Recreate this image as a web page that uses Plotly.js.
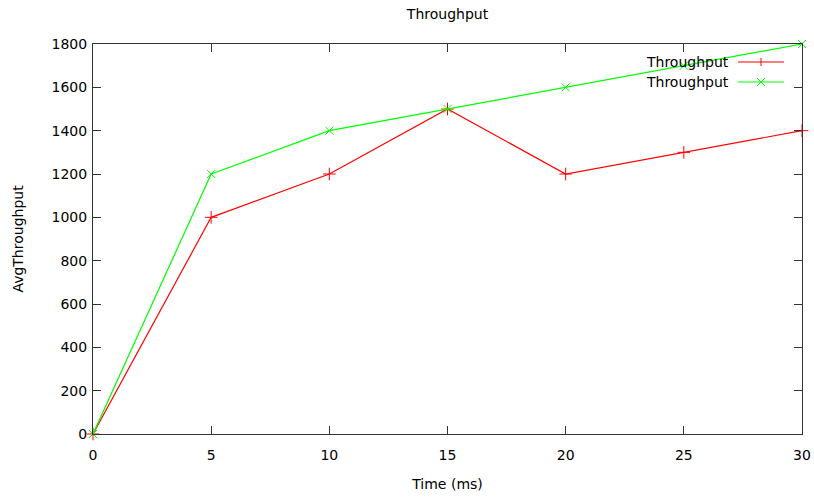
<!DOCTYPE html>
<html>
<head>
<meta charset="utf-8">
<script src="https://cdn.plot.ly/plotly-3.0.1.min.js"></script>
<style>html,body{margin:0;padding:0;background:#fff;}#chart{width:814px;height:498px;}</style>
</head>
<body>
<div id="chart"></div>
<script>
const timeMs = [0, 5, 10, 15, 20, 25, 30];
const throughputA = [0, 1000, 1200, 1500, 1200, 1300, 1400];
const throughputB = [0, 1200, 1400, 1500, 1600, 1700, 1800];
const seriesNames = ['Throughput', 'Throughput'];
const xTicks = [0, 5, 10, 15, 20, 25, 30];
const yTicks = [0, 200, 400, 600, 800, 1000, 1200, 1400, 1600, 1800];

const FONT = {family: 'DejaVu Sans, sans-serif', size: 14, color: '#000'};
const RED = '#ff0000', GREEN = '#00ff00';

const traces = [
  {x: timeMs, y: throughputA, name: seriesNames[0], type: 'scatter', mode: 'lines+markers',
   line: {color: RED, width: 1.2}, marker: {symbol: 'cross-thin', size: 9, line: {color: RED, width: 1}},
   cliponaxis: false},
  {x: timeMs, y: throughputB, name: seriesNames[1], type: 'scatter', mode: 'lines+markers',
   line: {color: GREEN, width: 1.2}, marker: {symbol: 'x-thin', size: 8, line: {color: GREEN, width: 1}},
   cliponaxis: false}
];

// custom gnuplot-style legend (text left, sample right) in pixel-derived paper coords
const W = 814, H = 498, L = 93, R = 12, T = 44, B = 64;
const pw = W - L - R, ph = H - T - B;
const px = v => (v - L) / pw;
const py = v => 1 - (v - T) / ph;
const legendRows = [
  {y: 62, color: RED, sym: 'plus'},
  {y: 82, color: GREEN, sym: 'x'}
];
const shapes = [];
const annotations = [];
legendRows.forEach((r, i) => {
  annotations.push({xref: 'paper', yref: 'paper', x: px(731), y: py(r.y), xanchor: 'right', yanchor: 'middle',
    text: seriesNames[i], showarrow: false, font: FONT});
  shapes.push({type: 'line', xref: 'paper', yref: 'paper', x0: px(738), x1: px(784), y0: py(r.y), y1: py(r.y),
    line: {color: r.color, width: 1.2}});
  const cx = 761, cy = r.y, s = 4;
  if (r.sym === 'plus') {
    shapes.push({type: 'line', xref: 'paper', yref: 'paper', x0: px(cx), x1: px(cx), y0: py(cy - s), y1: py(cy + s), line: {color: r.color, width: 1}});
  } else {
    shapes.push({type: 'line', xref: 'paper', yref: 'paper', x0: px(cx - s), x1: px(cx + s), y0: py(cy - s), y1: py(cy + s), line: {color: r.color, width: 1}});
    shapes.push({type: 'line', xref: 'paper', yref: 'paper', x0: px(cx - s), x1: px(cx + s), y0: py(cy + s), y1: py(cy - s), line: {color: r.color, width: 1}});
  }
});

const axisCommon = {
  showgrid: false, zeroline: false, showline: true, linecolor: '#333', linewidth: 1,
  mirror: 'allticks', ticks: 'inside', ticklen: 8, tickcolor: '#333', tickwidth: 1,
  tickfont: FONT, fixedrange: true
};

const layout = {
  width: W, height: H,
  margin: {l: L, r: R, t: T, b: B, pad: 0},
  paper_bgcolor: '#fff', plot_bgcolor: '#fff',
  showlegend: false,
  font: FONT,
  title: {text: 'Throughput', font: FONT, x: 0.5 * (L + W - R) / W, xanchor: 'center', y: 1 - 14 / H, yanchor: 'middle'},
  xaxis: Object.assign({}, axisCommon, {range: [0, 30], tickvals: xTicks, ticktext: xTicks.map(String),
    title: {text: 'Time (ms)', font: FONT, standoff: 17}, ticklabelstandoff: 8}),
  yaxis: Object.assign({}, axisCommon, {range: [0, 1800], tickvals: yTicks, ticktext: yTicks.map(String),
    title: {text: 'AvgThroughput', font: FONT, standoff: 24}, ticklabelstandoff: 2}),
  shapes: shapes,
  annotations: annotations
};

Plotly.newPlot('chart', traces, layout, {displayModeBar: false, staticPlot: true});
</script>
</body>
</html>
